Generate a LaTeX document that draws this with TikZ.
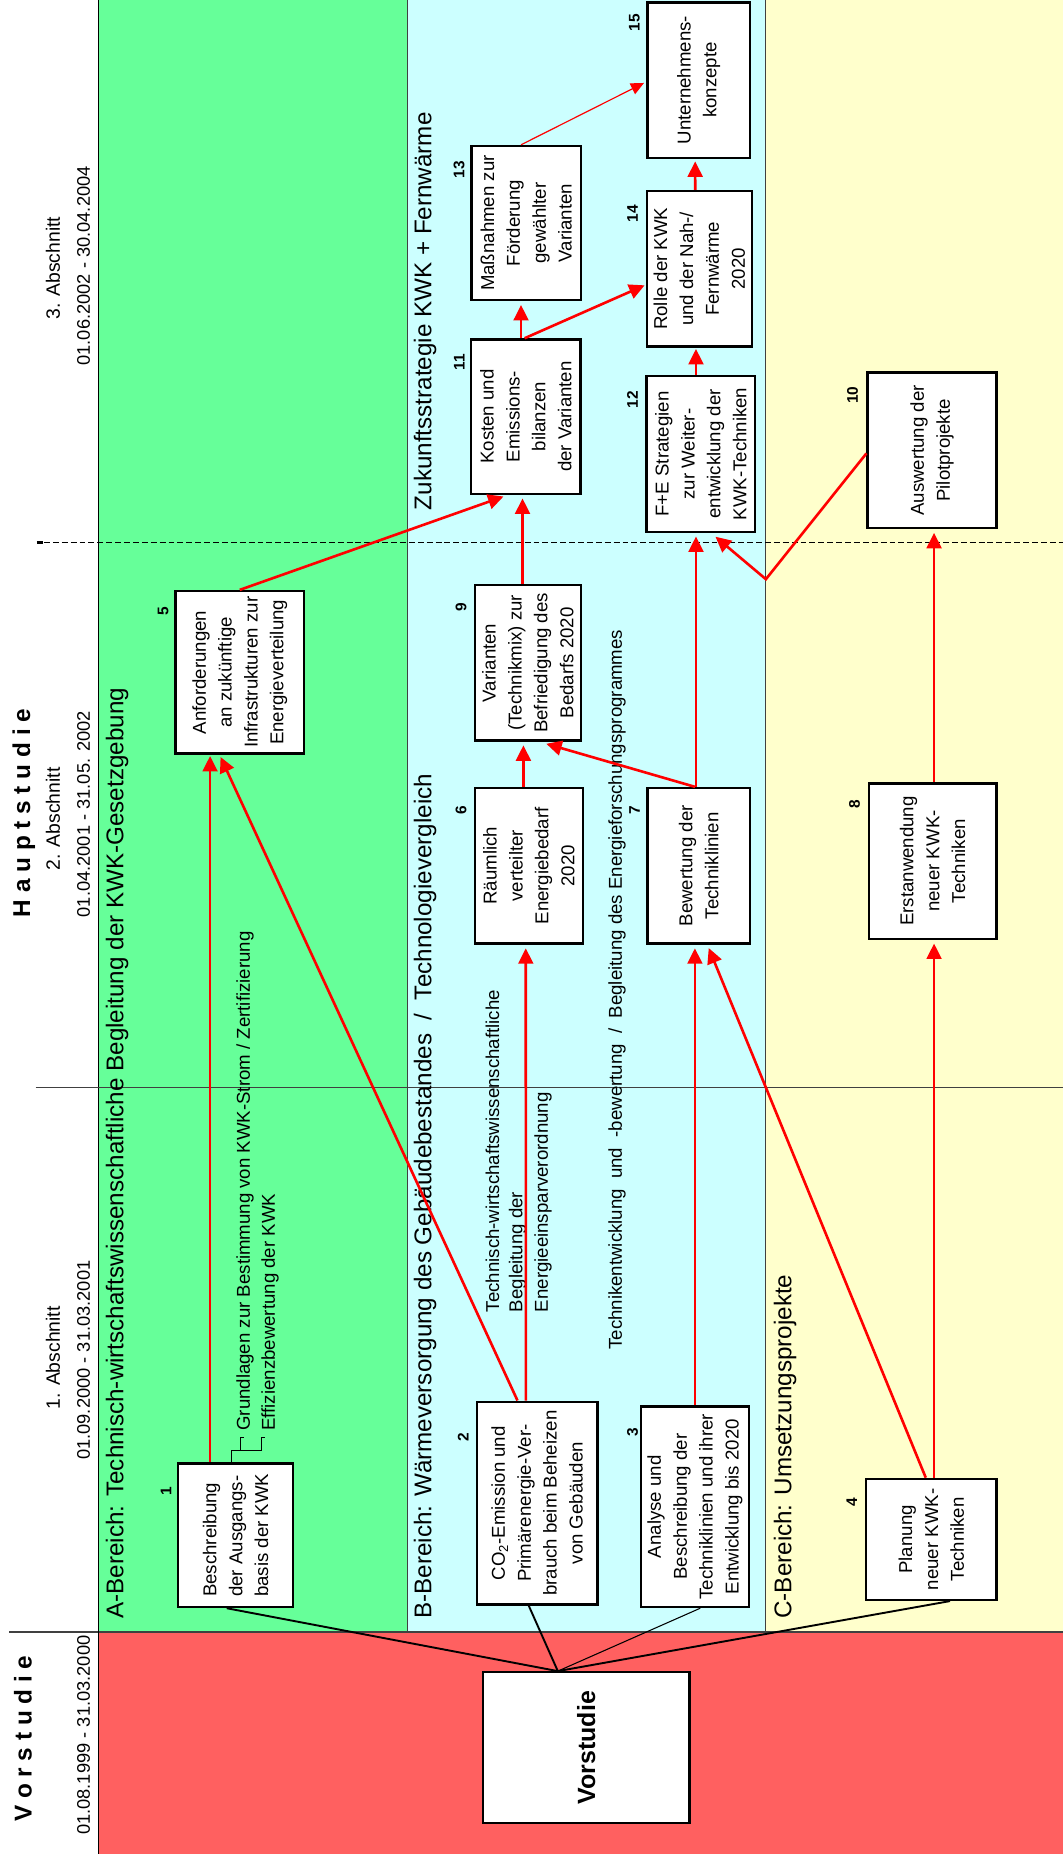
\documentclass[tikz,border=0pt]{standalone}
\usepackage{fontspec}
\setmainfont{Liberation Sans}
\usetikzlibrary{arrows.meta,calc}
\definecolor{bandgreen}{HTML}{66FF99}
\definecolor{bandcyan}{HTML}{CCFFFF}
\definecolor{bandyellow}{HTML}{FFFFCC}
\definecolor{bandred}{HTML}{FF6060}
\definecolor{arrowred}{HTML}{FF0000}
\definecolor{bordergray}{HTML}{404040}
\begin{document}
\begin{tikzpicture}[x=1pt,y=-1pt,
  box/.style={draw=black, line width=2pt, fill=white, rotate=90, inner sep=0pt, align=center, font=\fontsize{15.7}{21.8}\selectfont},
  num/.style={rotate=90, inner sep=0pt, font=\bfseries\fontsize{13}{15}\selectfont},
  title/.style={rotate=90, inner sep=0pt, anchor=base west, font=\fontsize{20.4}{24}\selectfont},
  note/.style={rotate=90, inner sep=0pt, anchor=base west, font=\fontsize{15.7}{20}\selectfont},
  head/.style={rotate=90, inner sep=0pt, anchor=base, font=\fontsize{15.4}{18}\selectfont},
  headA/.style={rotate=90, inner sep=0pt, anchor=base, font=\fontsize{16.3}{18}\selectfont},
  headbig/.style={rotate=90, inner sep=0pt, anchor=base, font=\bfseries\fontsize{20.5}{24}\selectfont},
  flow/.style={draw=arrowred, line width=2.2pt, -{Triangle[length=13pt,width=12.5pt]}, shorten >=3pt},
  thinflow/.style={draw=arrowred, line width=1pt, -{Triangle[length=11pt,width=10pt]}, shorten >=2pt},
  link/.style={draw=black, line width=1.6pt},
  thinlink/.style={draw=black, line width=0.9pt},
  bracket/.style={draw=black, line width=0.8pt},
]
\useasboundingbox (0,0) rectangle (896,1568);
% bands
\fill[bandgreen] (82.8,0) rectangle (343,1375);
\fill[bandcyan] (343,0) rectangle (645.3,1375);
\fill[bandyellow] (645.3,0) rectangle (896,1375);
\fill[bandred] (82.8,1375) rectangle (896,1562);
\draw[bordergray, line width=0.8pt] (343,0) -- (343,1375);
\draw[bordergray, line width=0.8pt] (645.3,0) -- (645.3,1375);
\draw[bordergray, line width=1pt] (8,1375) -- (896,1375);
\draw[black, line width=1pt] (82.8,0) -- (82.8,1562);
\draw[bordergray, line width=0.9pt] (30,916) -- (896,916);
\draw[black, line width=0.8pt, dash pattern=on 5pt off 2.5pt] (37,457) -- (896,457);
\draw[black, line width=2pt] (31,457) -- (36,457);

% header column
\node[headbig] (hVor) at (26.7,1465) {V o r s t u d i e};
\node[head] (dVor) at (75.8,1462) {01.08.1999 - 31.03.2000};
\node[headbig] (hHaupt) at (25.3,685) {H a u p t s t u d i e};
\node[headA] (a1) at (50.5,1144) {1. Abschnitt};
\node[head] (d1) at (75.8,1146) {01.09.2000 - 31.03.2001};
\node[headA] (a2) at (50.5,690) {2. Abschnitt};
\node[head] (d2) at (75.8,686) {01.04.2001 - 31.05. 2002};
\node[headA] (a3) at (50.5,226) {3. Abschnitt};
\node[head] (d3) at (75.8,224) {01.06.2002 - 30.04.2004};

% band titles
\node[title] (tA) at (104,1364) {A-Bereich: Technisch-wirtschaftswissenschaftliche Begleitung der KWK-Gesetzgebung};
\node[title] (tB) at (363.5,1364) {B-Bereich: Wärmeversorgung des Gebäudebestandes\ \ /\ \ Technologievergleich};
\node[title] (tC) at (666.7,1364) {C-Bereich: Umsetzungsprojekte};
\node[title] (tZ) at (363.5,430) {Zukunftsstrategie KWK + Fernwärme};

% notes
\node[note] (g1) at (210.5,1205.6) {Grundlagen zur Bestimmung von KWK-Strom / Zertifizierung};
\node[note] (g2) at (231.6,1205.6) {Effizienzbewertung der KWK};
\node[note] (e1) at (420.6,1105.7) {Technisch-wirtschaftswissenschaftliche};
\node[note] (e2) at (440.2,1105.7) {Begleitung der};
\node[note] (e3) at (461.6,1105.7) {Energieeinsparverordnung};
\node[note] (tk) at (524,1137.3) {Technikentwicklung\ \ und\ \ -bewertung\ \ /\ \ Begleitung des Energieforschungsprogrammes};

% boxes
\node[box, align=left, minimum width=121pt, minimum height=97pt] (b1) at (198.5,1293.5) {Beschreibung\\der Ausgangs-\\basis der KWK};
\node[box, minimum width=171pt, minimum height=101.7pt] (b2) at (452.55,1266.5) {CO\textsubscript{2}-Emission und\\Primärenergie-Ver-\\brauch beim Beheizen\\von Gebäuden};
\node[box, minimum width=169pt, minimum height=91pt] (b3) at (585.5,1269.5) {Analyse und\\Beschreibung der\\Techniklinien und ihrer\\Entwicklung bis 2020};
\node[box, minimum width=102pt, minimum height=109.8pt] (b4) at (784.7,1297) {Planung\\neuer KWK-\\Techniken};
\node[box, minimum width=137pt, minimum height=108pt] (b5) at (202,566.5) {Anforderungen\\an zukünftige\\Infrastrukturen zur\\Energieverteilung};
\node[box, minimum width=131pt, minimum height=91.2pt] (b6) at (445.6,729.5) {Räumlich\\verteilter\\Energiebedarf\\2020};
\node[box, minimum width=131pt, minimum height=86.6pt] (b7) at (588.7,729.5) {Bewertung der\\Techniklinien};
\node[box, minimum width=131pt, minimum height=107.6pt] (b8) at (785.8,725.5) {Erstanwendung\\neuer KWK-\\Techniken};
\node[box, minimum width=131pt, minimum height=89.5pt] (b9) at (444.75,558.5) {Varianten\\(Technikmix) zur\\Befriedigung des\\Bedarfs 2020};
\node[box, minimum width=131pt, minimum height=108.6pt] (b10) at (785.3,379.5) {Auswertung der\\Pilotprojekte};
\node[box, minimum width=130pt, minimum height=92pt] (b11) at (443,351) {Kosten und\\Emissions-\\bilanzen\\der Varianten};
\node[box, minimum width=131pt, minimum height=91.7pt] (b12) at (590.5,382.5) {F+E Strategien\\zur Weiter-\\entwicklung der\\KWK-Techniken};
\node[box, minimum width=130pt, minimum height=92pt] (b13) at (443.4,188) {Maßnahmen zur\\Förderung\\gewählter\\Varianten};
\node[box, minimum width=131pt, minimum height=88.5pt] (b14) at (589.25,226.5) {Rolle der KWK\\und der Nah-/\\Fernwärme\\2020};
\node[box, minimum width=131pt, minimum height=86.6pt] (b15) at (588.7,67.5) {Unternehmens-\\konzepte};
\node[box, minimum width=127pt, minimum height=174pt, font=\bfseries\fontsize{21}{25}\selectfont] (vs) at (494,1472.5) {Vorstudie};

% numbers
\node[num] (n1) at (140,1256) {1};
\node[num] (n2) at (390.3,1211) {2};
\node[num] (n3) at (533,1207) {3};
\node[num] (n4) at (717.7,1266) {4};
\node[num] (n5) at (137.5,515) {5};
\node[num] (n6) at (388.5,683) {6};
\node[num] (n7) at (534.7,683) {7};
\node[num] (n8) at (720,678) {8};
\node[num] (n9) at (388.5,512) {9};
\node[num] (n10) at (718.4,333) {10};
\node[num] (n11) at (387,305) {11};
\node[num] (n12) at (533,337) {12};
\node[num] (n13) at (386.7,143) {13};
\node[num] (n14) at (533,180) {14};
\node[num] (n15) at (534.6,19) {15};

% bracket at box 1
\coordinate (brA) at ($(b1.east)+(-3.5,0)$);
\coordinate (brB) at (195,1222.5);
\coordinate (brC) at (220.4,1222.5);
\coordinate (brD) at (202.7,1222.5);
\draw[bracket] (brA) -- (brB) -- (brC) -- (220.4,1211) -- (223,1211);
\draw[bracket] (brD) -- (202.7,1211) -- (205.5,1211);

% black links from Vorstudie
\coordinate (vtop) at ($(vs.east)+(-24,0)$);
\draw[link] (vtop) -- ($(b1.west)+(-7.5,0)$);
\draw[link] (vtop) -- ($(b2.west)+(-7,0)$);
\draw[thinlink] (vtop) -- ($(b3.west)+(4.5,0)$);
\draw[link] (vtop) -- ($(b4.west)+(15.7,0)$);

% red flows
\draw[flow, shorten >=1pt] ($(b1.east)+(-21.5,0)$) -- ($(b5.west)+(-25,0)$);
\draw[flow, shorten >=2pt] ($(b2.east)+(-16.55,0)$) -- ($(b5.west)+(-17,0)$);
\draw[flow] ($(b2.east)+(-9.5,0)$) -- ($(b6.west)+(-2.6,0)$);
\draw[flow] ($(b3.east)+(0,0)$) -- ($(b7.west)+(-3.2,0)$);
\draw[flow] ($(b4.east)+(2.3,0)$) -- ($(b8.west)+(1.2,0)$);
\draw[flow] ($(b4.east)+(-4.7,0)$) -- ($(b7.west)+(7.3,0)$);
\draw[flow] ($(b6.east)+(-4.6,0)$) -- ($(b9.west)+(-3.75,0)$);
\draw[flow, shorten >=6pt] ($(b7.east)+(-3,0)$) -- ($(b9.west)+(9.75,0)$);
\draw[flow] ($(b7.east)+(-2.3,0)$) -- ($(b12.west)+(-4.1,0)$);
\draw[flow] ($(b8.east)+(1.2,0)$) -- ($(b10.west)+(1.7,0)$);
\draw[flow] ($(b9.east)+(-4.5,0)$) -- ($(b11.west)+(-2.75,0)$);
\draw[flow, shorten >=4pt] ($(b5.east)+(0,0)$) -- ($(b11.west)+(-15,0)$);
\draw[flow] ($(b11.east)+(-4,0)$) -- ($(b13.west)+(-4.4,0)$);
\draw[flow, shorten >=1pt] ($(b11.east)+(-1,0)$) -- ($(b14.north)+(0,13.5)$);
\draw[thinflow] ($(b13.east)+(-4.4,0)$) -- ($(b15.north)+(0,1.5)$);
\draw[flow, shorten >=2pt] ($(b14.east)+(-3.5,0)$) -- ($(b15.west)+(-3,0)$);
\draw[flow, shorten >=1pt] ($(b12.east)+(-4.1,0)$) -- ($(b14.west)+(-2.85,0)$);
\coordinate (vpt) at (645.3,488);
\draw[flow, shorten >=5pt] ($(b10.north)+(0,2.5)$) -- (vpt) -- ($(b12.west)+(8.5,0)$);
\end{tikzpicture}
\end{document}
